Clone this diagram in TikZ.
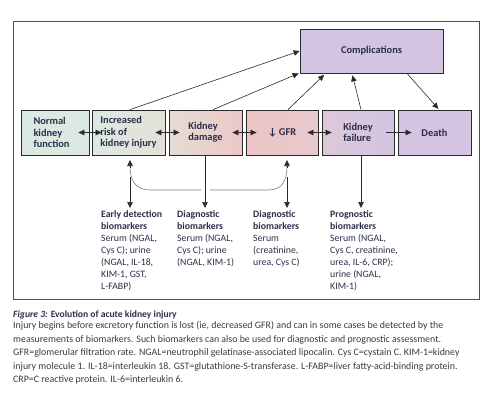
\documentclass[tikz,border=0pt]{standalone}
\usepackage{fontspec}
\setmainfont{Carlito}
\usetikzlibrary{arrows.meta}
\definecolor{navy}{HTML}{2B2E4A}
\definecolor{capgray}{HTML}{3A3A3A}
\definecolor{framegreen}{HTML}{1E6A45}
\definecolor{lineg}{HTML}{2A2A2A}
\definecolor{curveg}{HTML}{7A7A7A}
\definecolor{cNormal}{HTML}{DCE9E3}
\definecolor{cIncR}{HTML}{E3E0D8}
\definecolor{cDamL}{HTML}{E4DCD4}
\definecolor{cDamR}{HTML}{ECC8C8}
\definecolor{cGfrL}{HTML}{EBC5C5}
\definecolor{cGfrR}{HTML}{E8C9CD}
\definecolor{cFailL}{HTML}{DCC8D8}
\definecolor{cPurple}{HTML}{D3C5E1}
\begin{document}
\begin{tikzpicture}[x=1pt,y=-1pt,
  box/.style={draw=lineg, line width=0.8pt, minimum height=45pt, inner sep=2pt,
    align=left, text=navy, font=\bfseries\fontsize{10.4}{11.4}\selectfont},
  arr/.style={draw=lineg, line width=0.6pt, -{Triangle[length=6pt,width=5.5pt]}},
  dbl/.style={draw=lineg, line width=0.6pt, {Triangle[length=6pt,width=5.5pt]}-{Triangle[length=6pt,width=5.5pt]}},
  curv/.style={draw=curveg, line width=0.6pt},
  bio/.style={anchor=north west, inner sep=0pt, align=left, text=navy,
    font=\fontsize{9.8}{12}\selectfont},
  captxt/.style={anchor=north west, inner sep=0pt, align=left, text=capgray,
    font=\fontsize{9.9}{13.4}\selectfont}
]
\useasboundingbox (0,0) rectangle (490,408);
\draw[framegreen, line width=0.9pt] (13,21) rectangle (479,299);

% boxes
\node[box, minimum width=68pt, fill=cNormal, inner xsep=12pt, text width=43pt] (normal) at (55,132.5) {Normal\\kidney\\function};
\node[box, minimum width=73pt, left color=cNormal, right color=cIncR] (incr) at (128.5,132.5) {Increased\\risk of\\kidney injury};
\node[box, minimum width=73pt, left color=cDamL, right color=cDamR] (damage) at (205.5,132.5) {Kidney\\damage};
\node[box, minimum width=72pt, left color=cGfrL, right color=cGfrR] (gfr) at (282,132.5) {\textdownarrow\,GFR};
\node[box, minimum width=72pt, left color=cFailL, right color=cPurple] (failure) at (358,132.5) {Kidney\\failure};
\node[box, minimum width=73pt, fill=cPurple, align=center] (death) at (434.5,132.5) {Death};
\node[box, minimum width=143pt, minimum height=44pt, fill=cPurple, align=center] (comp) at (371.5,51) {Complications};

% horizontal arrows
\draw[dbl] ([xshift=-11pt]normal.east) -- ([xshift=10pt]incr.west);
\draw[dbl] ([xshift=-10pt]incr.east) -- ([xshift=11pt]damage.west);
\draw[dbl] ([xshift=-10pt]damage.east) -- ([xshift=11pt]gfr.west);
\draw[dbl] ([xshift=-11pt]gfr.east) -- ([xshift=10pt]failure.west);
\draw[arr] ([xshift=-8pt]failure.east) -- ([xshift=14pt]death.west);

% arrows to complications
\draw[arr] ([xshift=1.5pt]incr.north) -- (comp.west);
\draw[arr] ([xshift=7.5pt]damage.north) -- ([xshift=-1pt]comp.south west);
\draw[arr, shorten >=2pt] ([xshift=6pt]gfr.north) -- ([xshift=26pt]comp.south west);
\draw[arr, shorten >=2pt] ([xshift=3pt]failure.north) -- ([xshift=-19.5pt]comp.south);
\draw[arr, shorten >=1pt] ([xshift=35.5pt]comp.south) -- ([xshift=4.5pt]death.north);

% curved bracket
\coordinate (upA) at (130,160);
\coordinate (upB) at (287,160);
\coordinate (gapL) at (201,190);
\coordinate (gapR) at (210,190);
\draw[curv] (gapL) -- (150,190) .. controls (136,190) and (130,181) .. (130,166);
\draw[curv] (gapR) -- (268,190) .. controls (282,190) and (287,181) .. (287,166);
\draw[arr] (130,168) -- (upA);
\draw[arr] (287,168) -- (upB);

% biomarker texts
\node[bio] (ed) at (101,210) {\textbf{Early detection}\\\textbf{biomarkers}\\Serum (NGAL,\\Cys C); urine\\(NGAL, IL-18,\\KIM-1, GST,\\L-FABP)};
\node[bio] (dg1) at (177,210) {\textbf{Diagnostic}\\\textbf{biomarkers}\\Serum (NGAL,\\Cys C); urine\\(NGAL, KIM-1)};
\node[bio] (dg2) at (253,210) {\textbf{Diagnostic}\\\textbf{biomarkers}\\Serum\\(creatinine,\\urea, Cys C)};
\node[bio] (pg) at (330,210) {\textbf{Prognostic}\\\textbf{biomarkers}\\Serum (NGAL,\\Cys C, creatinine,\\urea, IL-6, CRP);\\urine (NGAL,\\KIM-1)};

% vertical arrows
\coordinate (sA) at (130,177);
\coordinate (sB) at (287,177);
\draw[arr] (sA) -- (130,208);
\draw[arr] (damage.south -| 205,0) -- (205,208);
\draw[arr] (sB) -- (287,208);
\draw[arr] (failure.south -| 361,0) -- (361,208);

% caption
\node[captxt, text=navy, font=\bfseries\fontsize{9.6}{12}\selectfont] (ctitle) at (13,311) {\textit{Figure 3:} Evolution of acute kidney injury};
\node[captxt] (cbody) at (13,321.5) {Injury begins before excretory function is lost (ie, decreased GFR) and can in some cases be detected by the\\
measurements of biomarkers. Such biomarkers can also be used for diagnostic and prognostic assessment.\\
GFR=glomerular filtration rate. NGAL=neutrophil gelatinase-associated lipocalin. Cys C=cystain C. KIM-1=kidney\\
injury molecule 1. IL-18=interleukin 18. GST=glutathione-S-transferase. L-FABP=liver fatty-acid-binding protein.\\
CRP=C reactive protein. IL-6=interleukin 6.};
\end{tikzpicture}
\end{document}
